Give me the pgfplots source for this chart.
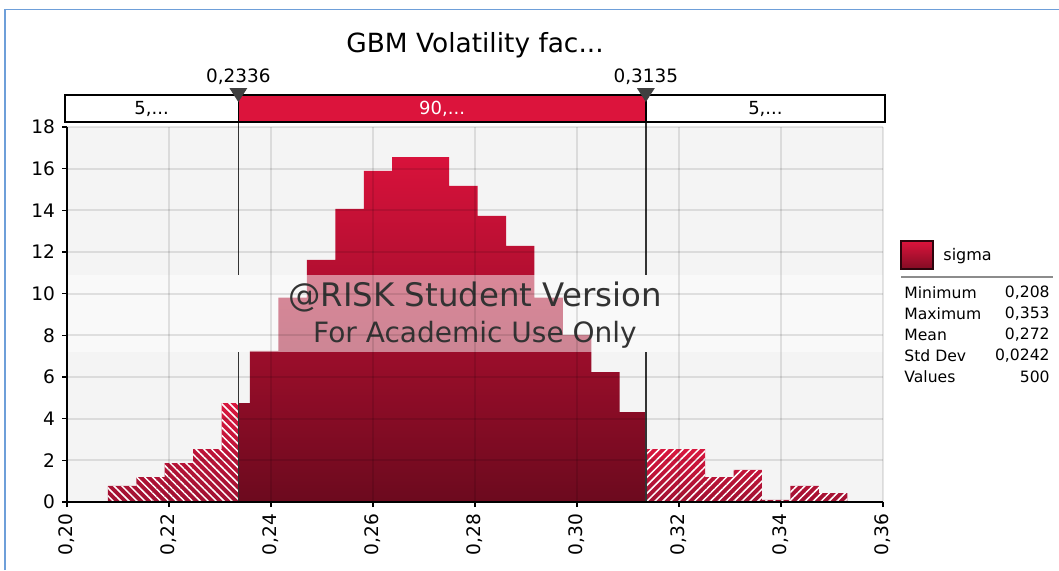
\documentclass[border=0pt]{standalone}
\usepackage{pgfplots}
\pgfplotsset{compat=1.18}
\usepackage{fontspec}
\setmainfont{DejaVu Sans}
\usetikzlibrary{patterns.meta}
\definecolor{crim}{HTML}{DC143C}
\definecolor{bartop}{HTML}{D8123B}
\definecolor{barbot}{HTML}{6C0A1E}
\definecolor{tailtop}{HTML}{D8163E}
\definecolor{tailbot}{HTML}{A01232}
\definecolor{plotbg}{HTML}{F4F4F4}
\definecolor{framec}{HTML}{6E9FD9}
\definecolor{cutc}{HTML}{333333}
\definecolor{wmc}{HTML}{333333}
\definecolor{tric}{HTML}{404040}
\pgfplotstableread{
x h
0.20800 0.77
0.21358 1.20
0.21915 1.87
0.22473 2.54
0.23031 4.75
0.2336 0
}\lefttail
\pgfplotstableread{
x h
0.2336 4.75
0.23588 7.25
0.24146 9.81
0.24704 11.62
0.25262 14.07
0.25819 15.89
0.26377 16.56
0.26935 16.56
0.27492 15.17
0.28050 13.73
0.28608 12.29
0.29165 9.81
0.29723 8.02
0.30281 6.24
0.30838 4.32
0.3135 0
}\center
\pgfplotstableread{
x h
0.3135 2.54
0.31954 2.54
0.32512 1.20
0.33069 1.54
0.33627 0.10
0.34185 0.77
0.34742 0.43
0.35300 0
}\righttail
\begin{document}
\begin{tikzpicture}[x=1pt,y=1pt]
\useasboundingbox (0,0) rectangle (529.5,285);
\fill[white] (0,0) rectangle (529.5,285);
\draw[framec, line width=0.9pt] (2.35,0) -- (2.35,280.25) -- (529.5,280.25);
\begin{axis}[
  at={(33.5pt,34pt)}, anchor=south west,
  scale only axis, width=408pt, height=187.5pt,
  xmin=0.2, xmax=0.36, ymin=0, ymax=18,
  axis x line*=bottom, axis y line*=left,
  axis line style={black, line width=1pt},
  xtick={0.20,0.22,0.24,0.26,0.28,0.30,0.32,0.34,0.36},
  ytick={0,2,4,6,8,10,12,14,16,18},
  tick align=outside, major tick length=2.5pt,
  tick style={black, line width=0.8pt},
  grid=major, grid style={black, opacity=0.1, line width=0.9pt},
  axis background/.style={fill=plotbg},
  axis on top,
  clip=false,
  xticklabel style={rotate=90, anchor=east, font=\fontsize{9.3}{10}\selectfont,
    /pgf/number format/.cd, fixed, fixed zerofill, precision=2, use comma, assume math mode=true},
  yticklabel style={font=\fontsize{9.3}{10}\selectfont,
    /pgf/number format/.cd, assume math mode=true},
]
% left tail (hatched)
\addplot[ybar interval, draw=none, top color=tailtop, bottom color=tailbot] table[x=x,y=h] {\lefttail};
\addplot[ybar interval, draw=none, pattern={Lines[angle=-45,distance=2.8pt,line width=0.75pt]}, pattern color=white] table[x=x,y=h] {\lefttail};
% central 90%
\addplot[ybar interval, draw=none, top color=bartop, bottom color=barbot] table[x=x,y=h] {\center};
% right tail (hatched)
\addplot[ybar interval, draw=none, top color=tailtop, bottom color=tailbot] table[x=x,y=h] {\righttail};
\addplot[ybar interval, draw=none, pattern={Lines[angle=45,distance=2.8pt,line width=0.75pt]}, pattern color=white] table[x=x,y=h] {\righttail};
% cutoff lines
\draw[cutc, line width=0.7pt] (axis cs:0.2336,0) -- (axis cs:0.2336,7.2);
\draw[cutc, line width=0.7pt] (axis cs:0.2336,10.9) -- (axis cs:0.2336,18.24);
\draw[cutc, line width=0.7pt] (axis cs:0.3135,0) -- (axis cs:0.3135,7.2);
\draw[cutc, line width=0.7pt] (axis cs:0.3135,10.9) -- (axis cs:0.3135,18.24);
% watermark band
\fill[white, opacity=0.5] (axis cs:0.2,7.2) rectangle (axis cs:0.36,10.9);
\node[anchor=base, text=wmc, font=\fontsize{16.2}{18}\selectfont, inner sep=0pt] at (axis cs:0.28,9.37) {@RISK Student Version};
\node[anchor=base, text=wmc, font=\fontsize{14}{16}\selectfont, inner sep=0pt] at (axis cs:0.28,7.65) {For Academic Use Only};
% percentile bar
\fill[white] (axis cs:0.19961,18.24) rectangle (axis cs:0.36039,19.54);
\fill[crim] (axis cs:0.2336,18.24) rectangle (axis cs:0.3135,19.54);
\draw[black, line width=1pt] (axis cs:0.19961,18.24) rectangle (axis cs:0.36039,19.54);
\draw[black, line width=0.7pt] (axis cs:0.2336,18.24) -- (axis cs:0.2336,19.54);
\draw[black, line width=0.7pt] (axis cs:0.3135,18.24) -- (axis cs:0.3135,19.54);
\node[anchor=base, font=\fontsize{9}{10}\selectfont, inner sep=0pt] at (axis cs:0.2166,18.58) {5,...};
\node[anchor=base, font=\fontsize{9}{10}\selectfont, inner sep=0pt, text=white] at (axis cs:0.27355,18.58) {90,...};
\node[anchor=base, font=\fontsize{9}{10}\selectfont, inner sep=0pt] at (axis cs:0.33695,18.58) {5,...};
% markers
\fill[tric] (axis cs:0.23184,19.87) -- (axis cs:0.23536,19.87) -- (axis cs:0.2336,19.2) -- cycle;
\fill[tric] (axis cs:0.31174,19.87) -- (axis cs:0.31526,19.87) -- (axis cs:0.3135,19.2) -- cycle;
\node[anchor=base, font=\fontsize{9.2}{10}\selectfont, inner sep=0pt] at (axis cs:0.2336,20.13) {0,2336};
\node[anchor=base, font=\fontsize{9.2}{10}\selectfont, inner sep=0pt] at (axis cs:0.3135,20.13) {0,3135};
% title
\node[anchor=base, font=\fontsize{13.2}{15}\selectfont, inner sep=0pt] at (axis cs:0.28,21.57) {GBM Volatility fac...};
\end{axis}
% legend / statistics
\draw[black!80!crim, line width=0.8pt, top color=crim, bottom color=barbot!80!crim] (450.5,150.5) rectangle (466.5,164.5);
\node[anchor=west, font=\fontsize{8}{9}\selectfont, inner sep=0pt] at (471.5,157) {sigma};
\draw[black!45, line width=0.8pt] (450.5,146.5) -- (526.5,146.5);
\begin{scope}[every node/.style={font=\fontsize{7.8}{9}\selectfont, inner sep=0pt}]
\node[anchor=west] at (452,138.5) {Minimum};  \node[anchor=east] at (525,138.5) {0,208};
\node[anchor=west] at (452,128) {Maximum};  \node[anchor=east] at (525,128) {0,353};
\node[anchor=west] at (452,117.5) {Mean};  \node[anchor=east] at (525,117.5) {0,272};
\node[anchor=west] at (452,107) {Std Dev};  \node[anchor=east] at (525,107) {0,0242};
\node[anchor=west] at (452,96.5) {Values};  \node[anchor=east] at (525,96.5) {500};
\end{scope}
\end{tikzpicture}
\end{document}
